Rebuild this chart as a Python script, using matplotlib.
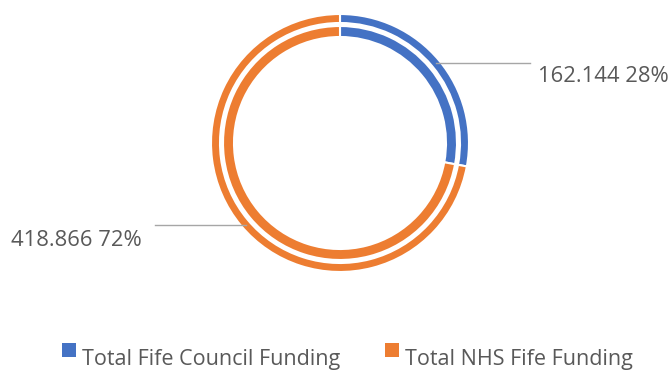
import matplotlib.pyplot as plt
from matplotlib.patches import Rectangle

labels = ['Total Fife Council Funding', 'Total NHS Fife Funding']
values = [162.144, 418.866]
colors = ['#4472c4', '#ed7d31']

plt.rcParams['font.family'] = ['Open Sans', 'DejaVu Sans']
text_col = '#595959'

fig = plt.figure(figsize=(6.7, 3.72), dpi=100)
ax = fig.add_axes([0, 0, 1, 1])

# two rings, same data (pixel units, y up)
cx, cy = 340, 229
ax.pie(values, colors=colors, startangle=90, counterclock=False,
       center=(cx, cy), radius=129,
       wedgeprops=dict(width=9, edgecolor='white', linewidth=1.5))
ax.pie(values, colors=colors, startangle=90, counterclock=False,
       center=(cx, cy), radius=117,
       wedgeprops=dict(width=11, edgecolor='white', linewidth=1.5))

ax.set_xlim(0, 670)
ax.set_ylim(0, 372)
ax.set_aspect('auto')
ax.axis('off')

total = sum(values)
pct = [round(v / total * 100) for v in values]

# leader lines + labels
ax.plot([436, 530], [309, 309], color='#a6a6a6', lw=1)
ax.text(538, 295, f'{values[0]:g} {pct[0]}%', fontsize=15.8, color=text_col,
        ha='left', va='center')
ax.plot([155, 246], [147, 147], color='#a6a6a6', lw=1)
ax.text(11, 132, f'{values[1]:g} {pct[1]}%', fontsize=15.8, color=text_col,
        ha='left', va='center')

# legend, drawn by hand so the swatch sits high like the original
for x0, lab, col in zip([62, 385], labels, colors):
    ax.add_patch(Rectangle((x0, 15), 14, 14, facecolor=col, edgecolor='none'))
    ax.text(x0 + 20, 13, lab, fontsize=15.5, color=text_col, ha='left', va='center')

fig.savefig('out.png', dpi=100)
